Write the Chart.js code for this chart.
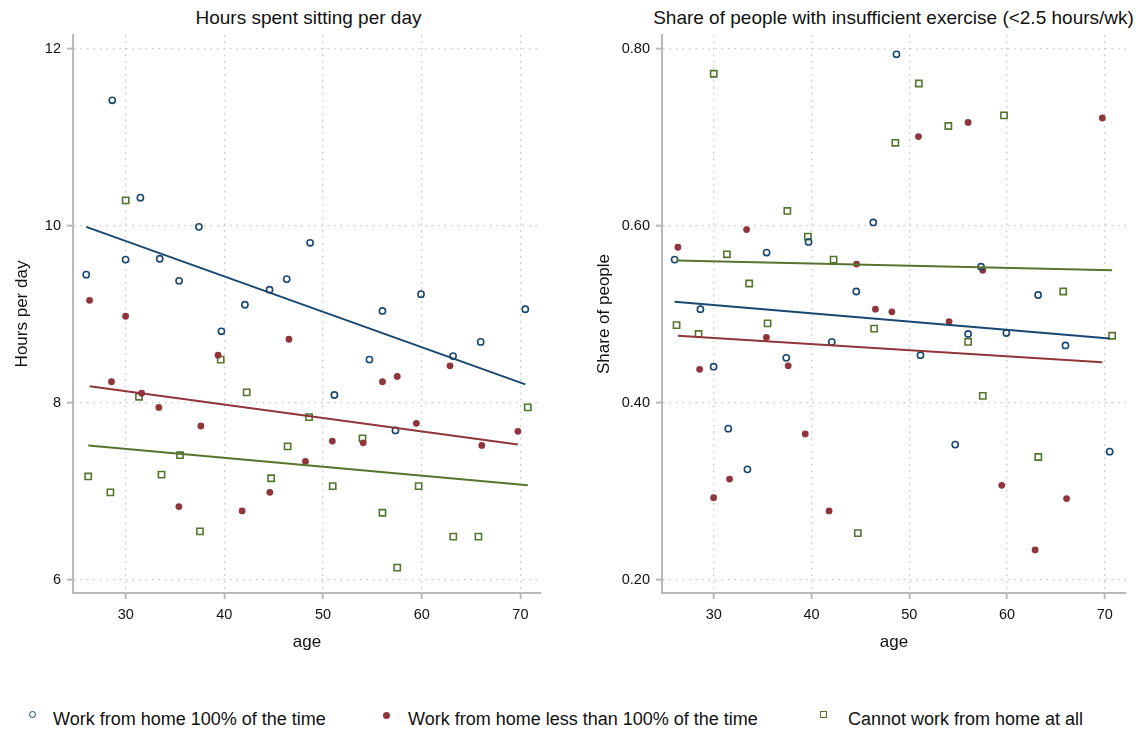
<!DOCTYPE html>
<html>
<head>
<meta charset="utf-8">
<script src="https://cdn.jsdelivr.net/npm/chart.js@4.4.1/dist/chart.umd.min.js"></script>
<style>
  html, body { margin: 0; padding: 0; background: #fff; overflow: hidden; }
  body { width: 1136px; height: 733px; position: relative; font-family: "Liberation Sans", Arial, sans-serif; color: #111; }
  canvas { position: absolute; top: 0; }
  #sitting { left: 0; }
  #exercise { left: 580px; }
  .title { position: absolute; top: 7px; font-size: 19px; line-height: 22px; text-align: center; white-space: nowrap; }
  .lg { position: absolute; top: 708px; font-size: 18px; line-height: 22px; white-space: nowrap; }
  .mk { position: absolute; box-sizing: border-box; width: 7px; height: 7px; }
</style>
</head>
<body>
<div class="title" style="left:0;width:617px">Hours spent sitting per day</div>
<div class="title" style="left:651px;width:485px">Share of people with insufficient exercise (&lt;2.5 hours/wk)</div>
<canvas id="sitting" width="560" height="670"></canvas>
<canvas id="exercise" width="556" height="670"></canvas>

<span class="mk" style="left:29px;top:711px;border:1.6px solid #1a476f;border-radius:50%"></span>
<div class="lg" style="left:53px">Work from home 100% of the time</div>
<span class="mk" style="left:383px;top:712px;background:#90353b;border-radius:50%"></span>
<div class="lg" style="left:408px">Work from home less than 100% of the time</div>
<span class="mk" style="left:820px;top:711px;border:1.6px solid #55752f"></span>
<div class="lg" style="left:848px">Cannot work from home at all</div>

<script>
const ageTicks = [30, 40, 50, 60, 70];
const sitTicks = [6, 8, 10, 12];
const exTicks = [0.2, 0.4, 0.6, 0.8];

// work from home 100%
const ageFull = [26.0, 28.64, 29.99, 31.49, 33.45, 35.41, 37.42, 39.7, 42.08, 44.58, 46.32, 48.69, 51.15, 54.7, 56.02, 57.34, 59.93, 63.18, 65.98, 70.5];
const sitFull = [9.45, 11.42, 9.62, 10.32, 9.63, 9.38, 9.99, 8.81, 9.11, 9.28, 9.40, 9.81, 8.09, 8.49, 9.04, 7.69, 9.23, 8.53, 8.69, 9.06];
const exFull = [0.562, 0.506, 0.441, 0.371, 0.325, 0.570, 0.451, 0.582, 0.469, 0.526, 0.604, 0.794, 0.454, 0.353, 0.478, 0.554, 0.479, 0.522, 0.465, 0.345];

// work from home less than 100%
const agePart = [26.34, 28.56, 29.99, 31.62, 33.36, 35.39, 37.62, 39.36, 41.8, 44.61, 46.54, 48.22, 50.94, 54.07, 56.02, 57.52, 59.46, 62.87, 66.09, 69.75];
const sitPart = [9.16, 8.24, 8.98, 8.11, 7.95, 6.83, 7.74, 8.54, 6.78, 6.99, 8.72, 7.34, 7.57, 7.55, 8.24, 8.30, 7.77, 8.42, 7.52, 7.68];
const exPart = [0.576, 0.438, 0.293, 0.314, 0.596, 0.474, 0.442, 0.365, 0.278, 0.557, 0.506, 0.503, 0.701, 0.492, 0.717, 0.550, 0.307, 0.234, 0.292, 0.722];

// cannot work from home
const ageNone = [26.2, 28.45, 30.0, 31.35, 33.63, 35.51, 37.53, 39.63, 42.26, 44.74, 46.41, 48.58, 50.98, 54.0, 56.02, 57.52, 59.69, 63.2, 65.75, 70.75];
const sitNone = [7.17, 6.99, 10.29, 8.07, 7.19, 7.41, 6.55, 8.49, 8.12, 7.15, 7.51, 7.84, 7.06, 7.60, 6.76, 6.14, 7.06, 6.49, 6.49, 7.95];
const exNone = [0.488, 0.478, 0.772, 0.568, 0.535, 0.490, 0.617, 0.588, 0.562, 0.253, 0.484, 0.694, 0.761, 0.713, 0.469, 0.408, 0.725, 0.339, 0.526, 0.476];

// fitted values at the first and last age of each group
const sitFitFull = [9.99, 8.21];
const sitFitPart = [8.19, 7.53];
const sitFitNone = [7.52, 7.07];
const exFitFull = [0.5145, 0.473];
const exFitPart = [0.476, 0.446];
const exFitNone = [0.561, 0.550];

const BLUE = "#1a476f";
const RED = "#90353b";
const GREEN = "#55752f";
const AXIS = "#b9b9b9";
const FONT = "'Liberation Sans', Arial, sans-serif";

const pts = (xs, ys) => xs.map((x, i) => ({ x: x, y: ys[i] }));
const fit = (xs, f) => [{ x: xs[0], y: f[0] }, { x: xs[xs.length - 1], y: f[1] }];

// dotted grid, solid grey axis line and outward tick marks
const gridOpts = {
  color: "#c6c6c6",
  lineWidth: 1.3,
  drawTicks: true,
  tickLength: 6,
  tickColor: AXIS,
  tickWidth: 2,
  tickBorderDash: [],
};
const borderOpts = { display: true, color: AXIS, width: 2, dash: [1.5, 5] };

const makePanel = (id, p) => {
  return new Chart(document.getElementById(id), {
    type: "scatter",
    data: {
      datasets: [
        { data: fit(ageFull, p.fitFull), showLine: true, borderColor: BLUE, borderWidth: 2, pointRadius: 0 },
        { data: fit(agePart, p.fitPart), showLine: true, borderColor: RED, borderWidth: 2, pointRadius: 0 },
        { data: fit(ageNone, p.fitNone), showLine: true, borderColor: GREEN, borderWidth: 2, pointRadius: 0 },
        {
          data: pts(ageFull, p.full),
          pointStyle: "circle",
          pointRadius: 3.1,
          pointBorderWidth: 1.6,
          pointBorderColor: BLUE,
          pointBackgroundColor: "rgba(0,0,0,0)",
        },
        {
          data: pts(agePart, p.part),
          pointStyle: "circle",
          pointRadius: 3.4,
          pointBorderWidth: 0,
          pointBorderColor: RED,
          pointBackgroundColor: RED,
        },
        {
          data: pts(ageNone, p.none),
          pointStyle: "rect",
          pointRadius: 4.4,
          pointBorderWidth: 1.6,
          pointBorderColor: GREEN,
          pointBackgroundColor: "rgba(0,0,0,0)",
        },
      ],
    },
    options: {
      responsive: false,
      animation: false,
      events: [],
      layout: { padding: { top: 35, right: p.padRight, left: 0, bottom: 0 } },
      scales: {
        x: {
          type: "linear",
          min: p.xMin,
          max: p.xMax,
          afterBuildTicks: (s) => { s.ticks = ageTicks.map((v) => ({ value: v })); },
          afterFit: (s) => { s.height = 77; },
          ticks: { font: { family: FONT, size: 14.5 }, color: "#111", padding: 7, maxRotation: 0 },
          grid: gridOpts,
          border: borderOpts,
          title: { display: true, text: "age", font: { family: FONT, size: 17 }, color: "#111", padding: { top: 0, bottom: 17 } },
        },
        y: {
          min: p.yMin,
          max: p.yMax,
          afterBuildTicks: (s) => { s.ticks = p.yTicks.map((v) => ({ value: v })); },
          afterFit: (s) => { s.width = p.yWidth; },
          ticks: {
            font: { family: FONT, size: 14.5 },
            color: "#111",
            padding: 6,
            callback: p.yLabel,
          },
          grid: gridOpts,
          border: borderOpts,
          title: { display: true, text: p.yTitle, font: { family: FONT, size: 17 }, color: "#111", padding: { top: p.yTitlePad, bottom: 0 } },
        },
      },
      plugins: {
        legend: { display: false },
        tooltip: { enabled: false },
      },
    },
  });
};

makePanel("sitting", {
  full: sitFull, part: sitPart, none: sitNone,
  fitFull: sitFitFull, fitPart: sitFitPart, fitNone: sitFitNone,
  xMin: 24.66, xMax: 72.09, yMin: 5.853, yMax: 12.158,
  yTicks: sitTicks, yLabel: (v) => String(v),
  yTitle: "Hours per day", yTitlePad: 12, yWidth: 73, padRight: 19,
});

makePanel("exercise", {
  full: exFull, part: exPart, none: exNone,
  fitFull: exFitFull, fitPart: exFitPart, fitNone: exFitNone,
  xMin: 24.71, xMax: 72.17, yMin: 0.1853, yMax: 0.8158,
  yTicks: exTicks, yLabel: (v) => v.toFixed(2),
  yTitle: "Share of people", yTitlePad: 14, yWidth: 82, padRight: 10,
});
</script>
</body>
</html>
